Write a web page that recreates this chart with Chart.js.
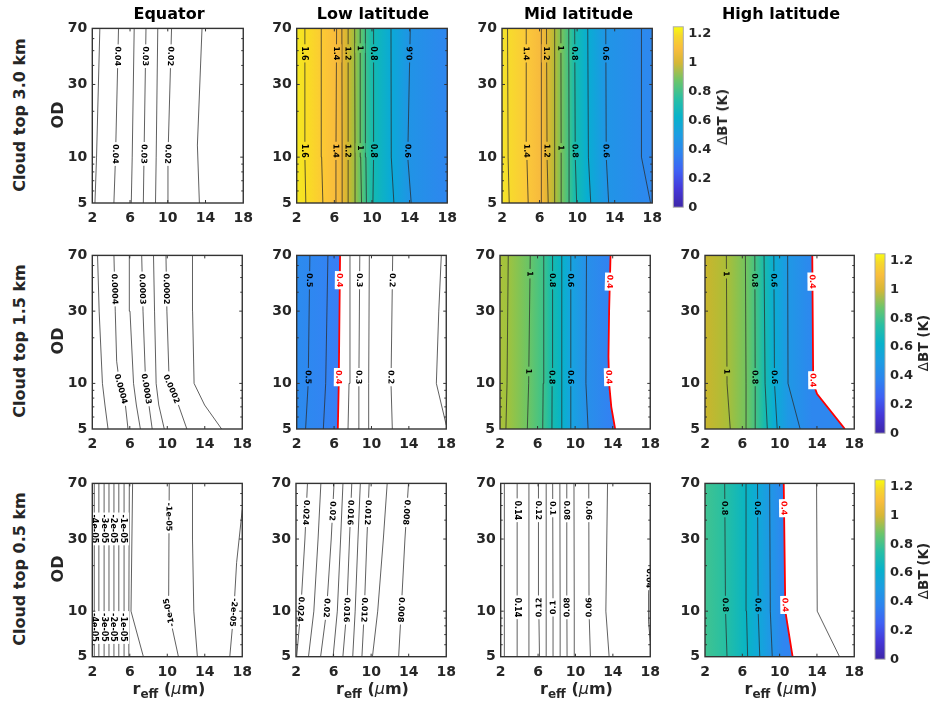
<!DOCTYPE html>
<html>
<head>
<meta charset="utf-8">
<title>ΔBT contours</title>
<script src="https://cdn.jsdelivr.net/npm/chart.js@4.4.1/dist/chart.umd.min.js"></script>
<style>
  html, body { margin: 0; padding: 0; background: #fff; }
  #fig { position: relative; width: 933px; height: 706px; overflow: hidden;
         font-family: "DejaVu Sans", sans-serif; color: #262626; }
  .cell { position: absolute; }
  .txt { position: absolute; z-index: 2; white-space: nowrap; font-weight: bold;
         transform: translate(-50%, -50%); }
  .title { font-size: 16px; color: #000; }
  .rowlab { font-size: 16px; transform: translate(-50%, -50%) rotate(-90deg); }
  .cblab { font-size: 13.5px; transform: translate(-50%, -50%) rotate(-90deg); }
  .xlab { font-size: 16px; }
  .xlab sub { font-size: 12px; vertical-align: -4px; }
  .mu { font-weight: normal; font-style: italic; }
  .delta { font-weight: normal; }
</style>
</head>
<body>
<div id="fig">
  <div class="txt title" style="left:169px;top:13px">Equator</div>
  <div class="txt title" style="left:373px;top:13px">Low latitude</div>
  <div class="txt title" style="left:578.5px;top:13px">Mid latitude</div>
  <div class="txt title" style="left:781px;top:13px">High latitude</div>

  <div class="txt rowlab" style="left:18.5px;top:114.5px">Cloud top 3.0 km</div>
  <div class="txt rowlab" style="left:18.5px;top:341px">Cloud top 1.5 km</div>
  <div class="txt rowlab" style="left:18.5px;top:568.5px">Cloud top 0.5 km</div>
  <div class="txt rowlab" style="left:57px;top:114.5px">OD</div>
  <div class="txt rowlab" style="left:57px;top:341px">OD</div>
  <div class="txt rowlab" style="left:57px;top:568.5px">OD</div>

  <div class="txt xlab" style="left:169px;top:690px">r<sub>eff</sub> (<span class="mu">μ</span>m)</div>
  <div class="txt xlab" style="left:372.5px;top:690px">r<sub>eff</sub> (<span class="mu">μ</span>m)</div>
  <div class="txt xlab" style="left:576.5px;top:690px">r<sub>eff</sub> (<span class="mu">μ</span>m)</div>
  <div class="txt xlab" style="left:781px;top:690px">r<sub>eff</sub> (<span class="mu">μ</span>m)</div>

  <div class="txt cblab" style="left:722px;top:117px"><span class="delta">Δ</span>BT (K)</div>
  <div class="txt cblab" style="left:923px;top:343px"><span class="delta">Δ</span>BT (K)</div>
  <div class="txt cblab" style="left:923px;top:571px"><span class="delta">Δ</span>BT (K)</div>
</div>
<script>
// axes
const rEffRange = [2, 18];
const odRange = [5, 70];
const rEffTicks = [2, 6, 10, 14, 18];
const odTicks = [5, 10, 30, 70];
const odMinorTicks = [6, 7, 8, 9, 20, 40, 50, 60];
const cbarRange = [0, 1.25];
const cbarTicks = [0, 0.2, 0.4, 0.6, 0.8, 1, 1.2];

// contour lines, [r_eff, OD] from bottom to top
// labels: [line index, text, OD, flipped]
const eqTopLines = [
  [[2.28, 5], [2.45, 10], [2.8, 70]],
  [[4.29, 5], [4.46, 10], [4.78, 70]],
  [[6.13, 5], [6.23, 10], [6.44, 70]],
  [[7.41, 5], [7.48, 10], [7.69, 70]],
  [[8.7, 5], [8.77, 10], [8.94, 70]],
  [[9.98, 5], [10.02, 10], [10.4, 70]],
  [[13.35, 5], [13.14, 12], [13.63, 70]]
];
const eqTopLabels = [[1, '0.04', 46], [1, '0.04', 10.5], [3, '0.03', 46], [3, '0.03', 10.5],
  [5, '0.02', 46], [5, '0.02', 10.5]];

const lowTopLines = [
  [[2.97, 5], [2.87, 10], [2.87, 70]],
  [[4.78, 5], [4.65, 10], [4.61, 70]],
  [[6.1, 5], [6.17, 10], [6.24, 70]],
  [[6.87, 5], [6.83, 10], [6.8, 70]],
  [[7.5, 5], [7.47, 10], [7.46, 70]],
  [[8.26, 5], [8.2, 10], [8.16, 70]],
  [[8.89, 5], [8.8, 10], [8.75, 70]],
  [[9.41, 5], [9.35, 10], [9.3, 70]],
  [[10.1, 5], [10.17, 10], [10.17, 70]],
  [[12.33, 5], [12.05, 10], [12.02, 70]],
  [[14.17, 5], [13.8, 10], [14.07, 70]]
];
const lowTopLabels = [[0, '1.6', 48], [0, '1.6', 11], [2, '1.4', 48], [2, '1.4', 11],
  [4, '1.2', 48], [4, '1.2', 11], [6, '1', 52], [6, '1', 11.5], [8, '0.8', 48], [8, '0.8', 11],
  [10, '0.6', 48, true], [10, '0.6', 11]];

const midTopLines = [
  [[2.77, 5], [2.65, 10], [2.59, 70]],
  [[4.79, 5], [4.65, 10], [4.58, 70]],
  [[6.22, 5], [6.2, 10], [6.18, 70]],
  [[6.92, 5], [6.8, 10], [6.74, 70]],
  [[7.61, 5], [7.61, 10], [7.61, 70]],
  [[8.34, 5], [8.3, 10], [8.27, 70]],
  [[9.18, 5], [9.14, 10], [9.11, 70]],
  [[9.95, 5], [9.8, 10], [9.74, 70]],
  [[11.45, 5], [11.2, 10], [11.13, 70]],
  [[13.36, 5], [13.1, 10], [13.05, 70]],
  [[17.82, 5], [16.85, 10], [16.85, 70]]
];
const midTopLabels = [[1, '1.4', 48], [1, '1.4', 11], [3, '1.2', 48], [3, '1.2', 11],
  [5, '1', 52], [5, '1', 11.5], [7, '0.8', 48], [7, '0.8', 11], [9, '0.6', 48], [9, '0.6', 11]];

const eqMidLines = [
  [[3.68, 5], [3.35, 7.2], [3.08, 10], [2.73, 30], [2.56, 70]],
  [[5.81, 5], [5.53, 7.2], [4.9, 10], [4.6, 14], [4.45, 30], [4.31, 70]],
  [[7.13, 5], [6.7, 7.2], [6.4, 10], [6.02, 30], [5.95, 70]],
  [[8.39, 5], [8.04, 7.2], [7.69, 10], [7.41, 30], [7.27, 70]],
  [[9.68, 5], [9.09, 7.2], [8.81, 10], [8.64, 30], [8.53, 70]],
  [[12.09, 5], [11.19, 7.2], [10.21, 10], [9.96, 30], [9.86, 70]],
  [[15.8, 5], [13.98, 7.2], [12.86, 10], [12.7, 30], [12.69, 70]]
];
const eqMidLabels = [[1, '0.0004', 42], [1, '0.0004', 9.2], [3, '0.0003', 42], [3, '0.0003', 9.2],
  [5, '0.0002', 42], [5, '0.0002', 9.2]];

const lowMidLines = [
  [[2.95, 5], [3.23, 10], [3.41, 70]],
  [[4.85, 5], [5.1, 10], [5.34, 70]],
  [[6.4, 5], [6.5, 10], [6.64, 70]],
  [[7.49, 5], [7.6, 10], [7.7, 70]],
  [[8.58, 5], [8.65, 10], [8.75, 70]],
  [[9.67, 5], [9.7, 10], [9.77, 70]],
  [[12.23, 5], [12.09, 10], [12.27, 70]],
  [[18, 5.3], [16.94, 10], [17.2, 30], [17.47, 70]]
];
const lowMidLabels = [[0, '0.5', 48], [0, '0.5', 11], [2, '0.4', 48], [2, '0.4', 11],
  [4, '0.3', 48], [4, '0.3', 11], [6, '0.2', 48], [6, '0.2', 11]];

const midMidLines = [
  [[2.63, 5], [2.75, 10], [2.88, 70]],
  [[4.91, 5], [5.05, 10], [5.22, 70]],
  [[6.55, 5], [6.6, 10], [6.66, 70]],
  [[7.53, 5], [7.55, 10], [7.6, 70]],
  [[8.58, 5], [8.58, 10], [8.58, 70]],
  [[9.56, 5], [9.55, 10], [9.53, 70]],
  [[11.38, 5], [11.15, 10], [11.21, 70]],
  [[14.26, 5], [13.85, 7], [13.62, 10], [13.55, 15], [13.62, 30], [13.77, 70]]
];
const midMidLabels = [[1, '1', 53], [1, '1', 12], [3, '0.8', 48], [3, '0.8', 11],
  [5, '0.6', 48], [5, '0.6', 11], [7, '0.4', 47], [7, '0.4', 11]];

const highMidLines = [
  [[4.71, 5], [4.36, 10], [4.29, 70]],
  [[6.5, 5], [6.4, 10], [6.33, 70]],
  [[7.45, 5], [7.38, 10], [7.34, 70]],
  [[8.68, 5], [8.44, 10], [8.33, 70]],
  [[9.74, 5], [9.45, 10], [9.38, 70]],
  [[12.2, 5], [10.9, 10], [10.86, 70]],
  [[17, 5], [14.02, 8.5], [13.6, 10], [13.5, 70]]
];
const highMidLabels = [[0, '1', 53], [0, '1', 12], [2, '0.8', 48], [2, '0.8', 11],
  [4, '0.6', 48], [4, '0.6', 11], [6, '0.4', 47], [6, '0.4', 10.5]];

const eqLowLines = [
  [[2.21, 5], [2.21, 70]],
  [[2.7, 5], [2.7, 70]],
  [[3.26, 5], [3.26, 70]],
  [[3.78, 5], [3.78, 70]],
  [[4.31, 5], [4.31, 70]],
  [[4.83, 5], [4.83, 70]],
  [[5.39, 5], [5.39, 70]],
  [[5.84, 5], [5.9, 10], [5.95, 70]],
  [[7.45, 5], [6.13, 10], [6.3, 70]],
  [[11.19, 5], [10.14, 10], [10.21, 70]],
  [[13.21, 5], [12.83, 10], [12.69, 30], [12.69, 70]],
  [[16.67, 5], [17.1, 10], [17.4, 21], [18, 47]]
];
const eqLowLabels = [[0, '-4e-05', 35], [0, '-4e-05', 7.8], [2, '-3e-05', 35], [2, '-3e-05', 7.8],
  [4, '-2e-05', 35], [4, '-2e-05', 7.8], [6, '-1e-05', 35], [6, '-1e-05', 7.8],
  [9, '-1e-05', 42], [9, '-1e-05', 9.8, true], [11, '-2e-05', 9.8]];

const lowLowLines = [
  [[2.07, 5], [2.5, 10], [2.95, 30], [3.22, 70]],
  [[3.33, 5], [3.9, 10], [4.35, 30], [4.65, 70]],
  [[4.62, 5], [5.25, 10], [5.75, 30], [6.05, 70]],
  [[5.95, 5], [6.4, 10], [6.75, 30], [7.0, 70]],
  [[6.99, 5], [7.4, 10], [7.7, 30], [7.94, 70]],
  [[8.04, 5], [8.3, 10], [8.6, 30], [8.85, 70]],
  [[9.02, 5], [9.27, 10], [9.55, 30], [9.79, 70]],
  [[10.14, 5], [10.7, 10], [11.3, 30], [11.71, 70]],
  [[12.93, 5], [13.2, 10], [13.6, 30], [13.98, 70]]
];
const lowLowLabels = [[0, '0.024', 45], [0, '0.024', 10.3], [2, '0.02', 46], [2, '0.02', 10.5],
  [4, '0.016', 45], [4, '0.016', 10.2], [6, '0.012', 45], [6, '0.012', 10.2],
  [8, '0.008', 45], [8, '0.008', 10.2]];

const midLowLines = [
  [[2.39, 5], [2.39, 70]],
  [[3.76, 5], [3.76, 70]],
  [[5.02, 5], [5.02, 70]],
  [[6.15, 5], [6.08, 10], [6.04, 70]],
  [[6.92, 5], [6.88, 10], [6.85, 70]],
  [[7.63, 5], [7.6, 10], [7.56, 70]],
  [[8.4, 5], [8.36, 10], [8.33, 70]],
  [[9.1, 5], [9.08, 10], [9.07, 70]],
  [[9.91, 5], [9.87, 10], [9.84, 70]],
  [[11.6, 5], [11.45, 10], [11.42, 70]],
  [[13.6, 5], [13.25, 10], [13.43, 70]],
  [[18, 6.3], [17.82, 8.5], [17.82, 13], [17.9, 17], [18, 19]]
];
const midLowLabels = [[1, '0.14', 46.5], [1, '0.14', 10.6], [3, '0.12', 46.5], [3, '0.12', 10.6, true],
  [5, '0.1', 48], [5, '0.1', 10.6, true], [7, '0.08', 46.5], [7, '0.08', 10.6, true],
  [9, '0.06', 46.5], [9, '0.06', 10.6, true], [11, '0.04', 16.5]];

const highLowLines = [
  [[4.36, 5], [4.2, 10], [4.11, 70]],
  [[6.57, 5], [6.45, 10], [6.4, 70]],
  [[7.87, 5], [7.7, 10], [7.63, 70]],
  [[9.21, 5], [9.0, 10], [8.93, 70]],
  [[11.39, 5], [10.61, 10], [10.44, 70]],
  [[16.42, 5], [14.03, 10], [13.96, 70]]
];
const highLowLabels = [[0, '0.8', 48], [0, '0.8', 11], [2, '0.6', 48], [2, '0.6', 11],
  [4, '0.4', 48], [4, '0.4', 11]];

// shading colours across r_eff
const lowTopShade = [[2, '#f4e923'], [2.9, '#f8df22'], [4.6, '#fccb33'], [6.2, '#f9bb3c'], [6.8, '#ecb636'],
  [7.46, '#cfb72f'], [8.16, '#9ebf3f'], [8.75, '#66c466'], [9.3, '#3cc28b'], [10.17, '#12b9b3'],
  [12, '#0aaad6'], [14.1, '#2193e6'], [18, '#2e86ef']];
const midTopShade = [[2, '#f3e628'], [2.6, '#f7dc2b'], [4.6, '#fbc93a'], [6.2, '#f7b93d'], [6.75, '#e4b634'],
  [7.6, '#b5bb35'], [8.27, '#7cc357'], [9.1, '#40c288'], [9.75, '#17bbad'], [11.1, '#08aed2'],
  [13.05, '#2095e6'], [16.85, '#2b8aed'], [18, '#2e87ef']];
const lowMidShade = [[2, '#2c8bee'], [3.4, '#2e88f0'], [5.3, '#3383f3'], [6.6, '#3a7df6']];
const midMidShade = [[2, '#aac23a'], [2.8, '#a0c33e'], [5.1, '#69c567'], [6.6, '#3dc38a'], [7.55, '#16bbae'],
  [8.58, '#07b3c9'], [9.55, '#16a4df'], [11.2, '#2790e9'], [13.7, '#3282f2']];
const highMidShade = [[2, '#cab52d'], [4.3, '#abbe38'], [6.35, '#74c45e'], [7.35, '#46c381'], [8.35, '#17bbae'],
  [9.4, '#0badd4'], [10.9, '#1f98e5'], [13.5, '#2e87ef']];
const highLowShade = [[2, '#40c391'], [4.1, '#27bfa2'], [6.4, '#09b4c4'], [7.65, '#10a9d8'], [8.95, '#1f98e5'],
  [10.5, '#3085f1']];
const parula = [[0, '#3e26a8'], [0.1, '#4537d8'], [0.2, '#3f60f4'], [0.3, '#2d84ef'], [0.4, '#1c9de2'],
  [0.5, '#08b2ca'], [0.6, '#28bfa4'], [0.7, '#6bc56b'], [0.8, '#d6b736'], [0.88, '#f9bd3d'],
  [0.95, '#f6d82c'], [1, '#f9fb0e']];

const panels = [
  {box: [92.3, 25.7, 246, 203], lines: eqTopLines, labels: eqTopLabels},
  {box: [296.7, 25.7, 450, 203], lines: lowTopLines, labels: lowTopLabels, shade: lowTopShade, full: true},
  {box: [502, 25.7, 655, 203], lines: midTopLines, labels: midTopLabels, shade: midTopShade, full: true},
  {box: [92.3, 252.7, 245, 429], lines: eqMidLines, labels: eqMidLabels},
  {box: [296.7, 252.7, 448.3, 429], lines: lowMidLines, labels: lowMidLabels, shade: lowMidShade, red: 2},
  {box: [500, 252.7, 652.3, 429], lines: midMidLines, labels: midMidLabels, shade: midMidShade, red: 7},
  {box: [705, 252.7, 856.7, 429], lines: highMidLines, labels: highMidLabels, shade: highMidShade, red: 6},
  {box: [92.3, 480, 245, 656.7], lines: eqLowLines, labels: eqLowLabels},
  {box: [296, 480, 448.3, 656.7], lines: lowLowLines, labels: lowLowLabels},
  {box: [500.7, 480, 652.3, 656.7], lines: midLowLines, labels: midLowLabels},
  {box: [705, 480, 856.7, 656.7], lines: highLowLines, labels: highLowLabels, shade: highLowShade, red: 4}
];
const colorbars = [[673.3, 24, 683.3, 209.3], [875, 251, 885, 435.7], [875, 477.3, 885, 661.7]];

const FONT = '"DejaVu Sans", sans-serif';
Chart.defaults.font.family = FONT;

function place(box, ml, mt, mr, mb) {
  const left = Math.floor(box[0] - ml), top = Math.floor(box[1] - mt);
  const right = Math.ceil(box[2] + mr), bottom = Math.ceil(box[3] + mb);
  const div = document.createElement('div');
  div.className = 'cell';
  div.style.left = left + 'px';
  div.style.top = top + 'px';
  div.style.width = (right - left) + 'px';
  div.style.height = (bottom - top) + 'px';
  const cv = document.createElement('canvas');
  div.appendChild(cv);
  document.getElementById('fig').appendChild(div);
  return {cv, l: box[0] - left, t: box[1] - top, r: right - box[2], b: bottom - box[3]};
}

function shadeGradient(chart, stops) {
  const x = chart.scales.x;
  const g = chart.ctx.createLinearGradient(x.getPixelForValue(rEffRange[0]), 0, x.getPixelForValue(rEffRange[1]), 0);
  const span = rEffRange[1] - rEffRange[0];
  stops.forEach(([r, c]) => g.addColorStop((r - rEffRange[0]) / span, c));
  return g;
}

function axisOpts(type, range, ticks, fit, pad, size) {
  return {
    type, min: range[0], max: range[1],
    grid: {display: false, drawTicks: false},
    border: {display: false},
    afterBuildTicks: s => { s.ticks = ticks.map(v => ({value: v})); },
    afterFit: fit,
    ticks: {autoSkip: false, maxRotation: 0, padding: pad, color: '#262626',
      font: {family: FONT, size, weight: 'bold'}, callback: v => String(v)}
  };
}

function shadePlugin(p) {
  return {
    id: 'shade',
    beforeDatasetsDraw(chart) {
      if (!p.full) return;
      const {ctx, chartArea: a} = chart;
      ctx.save();
      ctx.fillStyle = shadeGradient(chart, p.shade);
      ctx.fillRect(a.left, a.top, a.right - a.left, a.bottom - a.top);
      ctx.restore();
    }
  };
}

function labelPlugin(p) {
  return {
    id: 'clabel',
    afterDatasetsDraw(chart) {
      const {ctx, chartArea: a, scales: {x, y}} = chart;
      ctx.save();
      ctx.beginPath();
      ctx.rect(a.left, a.top, a.right - a.left, a.bottom - a.top);
      ctx.clip();
      ctx.font = 'bold 8px ' + FONT;
      ctx.textAlign = 'center';
      ctx.textBaseline = 'middle';
      for (const [li, text, od, flip] of p.labels) {
        const pts = p.lines[li];
        let k = 0;
        while (k < pts.length - 2 && pts[k + 1][1] < od) k++;
        const [r0, o0] = pts[k];
        const [r1, o1] = pts[k + 1];
        const t = Math.log(od / o0) / Math.log(o1 / o0);
        const px = x.getPixelForValue(r0 + t * (r1 - r0));
        const py = y.getPixelForValue(od);
        const dx = x.getPixelForValue(r0) - x.getPixelForValue(r1);
        const dy = y.getPixelForValue(o0) - y.getPixelForValue(o1);
        const ang = Math.atan2(dy, dx) + (flip ? Math.PI : 0);
        const w = ctx.measureText(text).width + 4;
        const red = li === p.red;
        const onShade = !red && p.shade && (p.full || li < p.red);
        if (onShade) {
          ctx.fillStyle = shadeGradient(chart, p.shade);
          ctx.fillRect(px - 5, py - w / 2, 10, w);
        }
        ctx.save();
        ctx.translate(px, py);
        ctx.rotate(ang);
        if (!onShade) {
          ctx.fillStyle = '#ffffff';
          ctx.fillRect(-w / 2, -5, w, 10);
        }
        ctx.fillStyle = red ? '#ff0000' : '#000000';
        ctx.fillText(text, 0, 0.5);
        ctx.restore();
      }
      ctx.restore();
    }
  };
}

const framePlugin = {
  id: 'frame',
  afterDraw(chart) {
    const {ctx, chartArea: a, scales: {x, y}} = chart;
    ctx.save();
    ctx.strokeStyle = '#333333';
    ctx.lineWidth = 1;
    ctx.beginPath();
    const tick = (px, py, dx, dy) => { ctx.moveTo(px, py); ctx.lineTo(px + dx, py + dy); };
    rEffTicks.slice(1, -1).forEach(v => {
      const px = x.getPixelForValue(v);
      tick(px, a.bottom, 0, -3); tick(px, a.top, 0, 3);
    });
    odTicks.slice(1, -1).forEach(v => {
      const py = y.getPixelForValue(v);
      tick(a.left, py, 3, 0); tick(a.right, py, -3, 0);
    });
    odMinorTicks.forEach(v => {
      const py = y.getPixelForValue(v);
      tick(a.left, py, 2, 0); tick(a.right, py, -2, 0);
    });
    ctx.stroke();
    ctx.lineWidth = 1.4;
    ctx.strokeRect(a.left, a.top, a.right - a.left, a.bottom - a.top);
    ctx.restore();
  }
};

function drawPanel(p) {
  const c = place(p.box, 46, 10, 14, 30);
  const datasets = p.lines.map((pts, i) => {
    const isRed = i === p.red;
    const ds = {
      data: pts.map(([r, od]) => ({x: r, y: od})),
      borderColor: isRed ? '#ff0000' : '#2b2b2b',
      borderWidth: isRed ? 1.8 : 0.75,
      pointRadius: 0,
      fill: false,
      order: isRed ? 0 : 1
    };
    if (isRed) {
      ds.indexAxis = 'y';
      ds.fill = {value: rEffRange[0]};
      ds.backgroundColor = ctx => ctx.chart.chartArea ? shadeGradient(ctx.chart, p.shade) : 'transparent';
    }
    return ds;
  });
  new Chart(c.cv, {
    type: 'line',
    data: {datasets},
    options: {
      responsive: true,
      maintainAspectRatio: false,
      animation: false,
      events: [],
      layout: {padding: {left: 0, top: c.t, right: c.r, bottom: 0}},
      plugins: {legend: {display: false}, tooltip: {enabled: false},
        filler: {drawTime: 'beforeDatasetsDraw'}},
      scales: {
        x: axisOpts('linear', rEffRange, rEffTicks, s => { s.height = c.b; }, 7, 14),
        y: axisOpts('logarithmic', odRange, odTicks, s => { s.width = c.l; }, 5, 14)
      }
    },
    plugins: [shadePlugin(p), labelPlugin(p), framePlugin]
  });
}

const cbarFrame = {
  id: 'cbarFrame',
  afterDraw(chart) {
    const {ctx, chartArea: a} = chart;
    ctx.save();
    ctx.strokeStyle = '#aaaaaa';
    ctx.lineWidth = 1;
    ctx.strokeRect(a.left, a.top, a.right - a.left, a.bottom - a.top);
    ctx.restore();
  }
};

function drawColorbar(box) {
  const c = place(box, 2, 10, 44, 10);
  new Chart(c.cv, {
    type: 'bar',
    data: {
      labels: [''],
      datasets: [{
        data: [cbarRange],
        barPercentage: 1,
        categoryPercentage: 1,
        borderWidth: 0,
        backgroundColor: ctx => {
          const chart = ctx.chart;
          if (!chart.chartArea) return 'transparent';
          const y = chart.scales.y;
          const g = chart.ctx.createLinearGradient(0, y.getPixelForValue(cbarRange[0]), 0, y.getPixelForValue(cbarRange[1]));
          parula.forEach(([t, col]) => g.addColorStop(t, col));
          return g;
        }
      }]
    },
    options: {
      responsive: true,
      maintainAspectRatio: false,
      animation: false,
      events: [],
      layout: {padding: {left: c.l, top: c.t, right: 0, bottom: c.b}},
      plugins: {legend: {display: false}, tooltip: {enabled: false}},
      scales: {
        x: {display: false},
        y: Object.assign(axisOpts('linear', cbarRange, cbarTicks, s => { s.width = c.r; }, 5, 13), {position: 'right'})
      }
    },
    plugins: [cbarFrame]
  });
}

panels.forEach(drawPanel);
colorbars.forEach(drawColorbar);
</script>
</body>
</html>
